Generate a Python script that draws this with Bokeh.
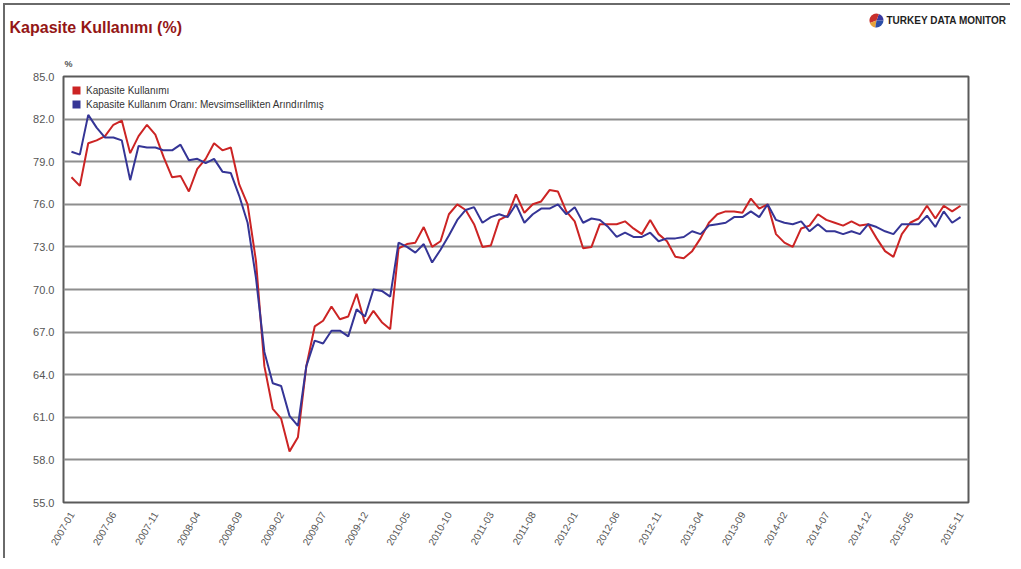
import math
from bokeh.plotting import figure
from bokeh.layouts import column
from bokeh.models import (Range1d, FixedTicker, Legend, LegendItem,
                          PrintfTickFormatter)
from bokeh.core.properties import value
from bokeh.embed import file_html
from bokeh.resources import INLINE

# ---- data ----
months = [f"{y}-{m:02d}" for y in range(2007, 2016) for m in range(1, 13)][:107]

kapasite = [
    77.9, 77.3, 80.3, 80.5, 80.8, 81.6, 81.9, 79.6, 80.8, 81.6,
    80.9, 79.3, 77.9, 78.0, 76.9, 78.5, 79.2, 80.3, 79.8, 80.0,
    77.4, 76.0, 72.0, 64.6, 61.6, 60.9, 58.6, 59.6, 64.6, 67.4,
    67.8, 68.8, 67.9, 68.1, 69.7, 67.6, 68.5, 67.7, 67.2, 72.9,
    73.2, 73.3, 74.4, 73.0, 73.4, 75.3, 76.0, 75.6, 74.6, 73.0,
    73.1, 74.9, 75.2, 76.7, 75.4, 76.0, 76.2, 77.0, 76.9, 75.5,
    74.8, 72.9, 73.0, 74.6, 74.6, 74.6, 74.8, 74.3, 73.9, 74.9,
    73.9, 73.4, 72.3, 72.2, 72.7, 73.6, 74.7, 75.3, 75.5, 75.5,
    75.4, 76.4, 75.7, 76.0, 73.9, 73.3, 73.0, 74.3, 74.5, 75.3,
    74.9, 74.7, 74.5, 74.8, 74.5, 74.6, 73.6, 72.7, 72.3, 73.9,
    74.7, 75.0, 75.9, 75.0, 75.9, 75.5, 75.9,
]

mevsimsel = [
    79.7, 79.5, 82.3, 81.4, 80.7, 80.7, 80.5, 77.7, 80.1, 80.0,
    80.0, 79.8, 79.8, 80.2, 79.1, 79.2, 78.9, 79.2, 78.3, 78.2,
    76.6, 74.7, 70.8, 65.6, 63.4, 63.2, 61.1, 60.4, 64.6, 66.4,
    66.2, 67.1, 67.1, 66.7, 68.6, 68.1, 70.0, 69.9, 69.5, 73.3,
    73.0, 72.6, 73.2, 71.9, 72.8, 73.8, 74.9, 75.6, 75.8, 74.7,
    75.1, 75.3, 75.1, 76.0, 74.7, 75.3, 75.7, 75.7, 76.0, 75.3,
    75.8, 74.7, 75.0, 74.9, 74.4, 73.7, 74.0, 73.7, 73.7, 74.0,
    73.4, 73.6, 73.6, 73.7, 74.1, 73.9, 74.5, 74.6, 74.7, 75.1,
    75.1, 75.5, 75.1, 76.0, 74.9, 74.7, 74.6, 74.8, 74.1, 74.6,
    74.1, 74.1, 73.9, 74.1, 73.9, 74.6, 74.4, 74.1, 73.9, 74.6,
    74.6, 74.6, 75.2, 74.4, 75.5, 74.7, 75.1,
]

tick_labels = ["2007-01", "2007-06", "2007-11", "2008-04", "2008-09", "2009-02",
               "2009-07", "2009-12", "2010-05", "2010-10", "2011-03", "2011-08",
               "2012-01", "2012-06", "2012-11", "2013-04", "2013-09", "2014-02",
               "2014-07", "2014-12", "2015-05", "2015-11"]
y_ticks = [55.0, 58.0, 61.0, 64.0, 67.0, 70.0, 73.0, 76.0, 79.0, 82.0, 85.0]

series_names = ["Kapasite Kullanımı",
                "Kapasite Kullanım Oranı: Mevsimsellikten Arındırılmış"]
title_text = "Kapasite Kullanımı (%)"
logo_text = "TURKEY DATA MONITOR"
unit_text = "%"

RED = "#cc2424"
BLUE = "#353596"
FONT = "Liberation Sans"
W = 1005

# ---- header (title, logo, unit) ----
HH = 63
hdr = figure(width=W, height=HH, output_backend="svg", toolbar_location=None,
             x_range=Range1d(0, W), y_range=Range1d(HH, 0),
             x_axis_type=None, y_axis_type=None, min_border=0)
hdr.frame_align = False
hdr.outline_line_color = None
hdr.grid.visible = False
hdr.background_fill_color = "white"
hdr.border_fill_color = "white"

hdr.text(x=[4], y=[22], text=[title_text], text_font=value(FONT),
         text_font_size=value("16px"), text_font_style="bold",
         text_color="#941616", text_baseline="middle", text_align="left")
hdr.text(x=[881], y=[15], text=[logo_text], text_font=value(FONT),
         text_font_size=value("10px"), text_font_style="bold",
         text_color="#1e1e1e", text_baseline="middle", text_align="left")
hdr.text(x=[59], y=[58], text=[unit_text], text_font=value(FONT),
         text_font_size=value("9px"), text_font_style="bold",
         text_color="#555555", text_baseline="middle", text_align="left")
# little pie logo
for a0, a1, col in [(0, 70, "#3a3aa0"), (70, 200, "#c8302c"),
                    (200, 260, "#e6a23a"), (260, 360, "#2c4fa8")]:
    hdr.wedge(x=[871], y=[15], radius=7, start_angle=a0, end_angle=a1,
              start_angle_units="deg", end_angle_units="deg",
              fill_color=col, line_color=None)

# ---- main chart ----
xs = list(range(len(months)))
tick_pos = [months.index(t) for t in tick_labels]

p = figure(width=W, height=490, output_backend="svg", toolbar_location=None,
           x_range=Range1d(-0.95, 106.95), y_range=Range1d(55, 85),
           min_border_left=58, min_border_top=8, min_border_right=42,
           min_border_bottom=56)
p.frame_align = False
p.background_fill_color = "white"
p.border_fill_color = "white"
p.outline_line_color = "#5a5a5a"
p.outline_line_width = 2

p.xgrid.visible = False
p.ygrid.ticker = FixedTicker(ticks=y_ticks)
p.ygrid.grid_line_color = "#8e8e8e"
p.ygrid.grid_line_width = 2

p.line(xs, kapasite, color=RED, line_width=2)
p.line(xs, mevsimsel, color=BLUE, line_width=2)

# legend swatches: zero-area quads so only the legend square shows
q1 = p.quad(left=xs[:1], right=xs[:1], bottom=kapasite[:1], top=kapasite[:1],
            fill_color=RED, line_color=None)
q2 = p.quad(left=xs[:1], right=xs[:1], bottom=mevsimsel[:1], top=mevsimsel[:1],
            fill_color=BLUE, line_color=None)
legend = Legend(items=[LegendItem(label=series_names[0], renderers=[q1]),
                       LegendItem(label=series_names[1], renderers=[q2])],
                location="top_left", margin=4, padding=4, spacing=2,
                glyph_width=10, glyph_height=10, label_height=12,
                label_standoff=5, label_text_font=FONT,
                label_text_font_size="10px", label_text_color="#333333",
                border_line_alpha=0, background_fill_alpha=0)
p.add_layout(legend, "center")

p.yaxis.ticker = FixedTicker(ticks=y_ticks)
p.yaxis.formatter = PrintfTickFormatter(format="%.1f")
p.yaxis.axis_line_color = None
p.yaxis.major_tick_line_color = None
p.yaxis.minor_tick_line_color = None
p.yaxis.major_label_text_font = FONT
p.yaxis.major_label_text_font_size = "11px"
p.yaxis.major_label_text_color = "#555555"
p.yaxis.major_label_standoff = 3

p.xaxis.ticker = FixedTicker(ticks=tick_pos)
p.xaxis.major_label_overrides = {pos: lab for pos, lab in zip(tick_pos, tick_labels)}
p.xaxis.major_label_orientation = math.pi / 3
p.xaxis.axis_line_color = None
p.xaxis.major_tick_line_color = None
p.xaxis.minor_tick_line_color = None
p.xaxis.major_label_text_font = FONT
p.xaxis.major_label_text_font_size = "10px"
p.xaxis.major_label_text_color = "#555555"
p.xaxis.major_label_standoff = 4

page = column(hdr, p, spacing=0)
page.styles = {"margin-top": "3px", "margin-left": "3px",
               "border-top": "2px solid #6a6a6a", "border-left": "2px solid #6a6a6a"}

open("out.html", "w").write(file_html(page, INLINE))
